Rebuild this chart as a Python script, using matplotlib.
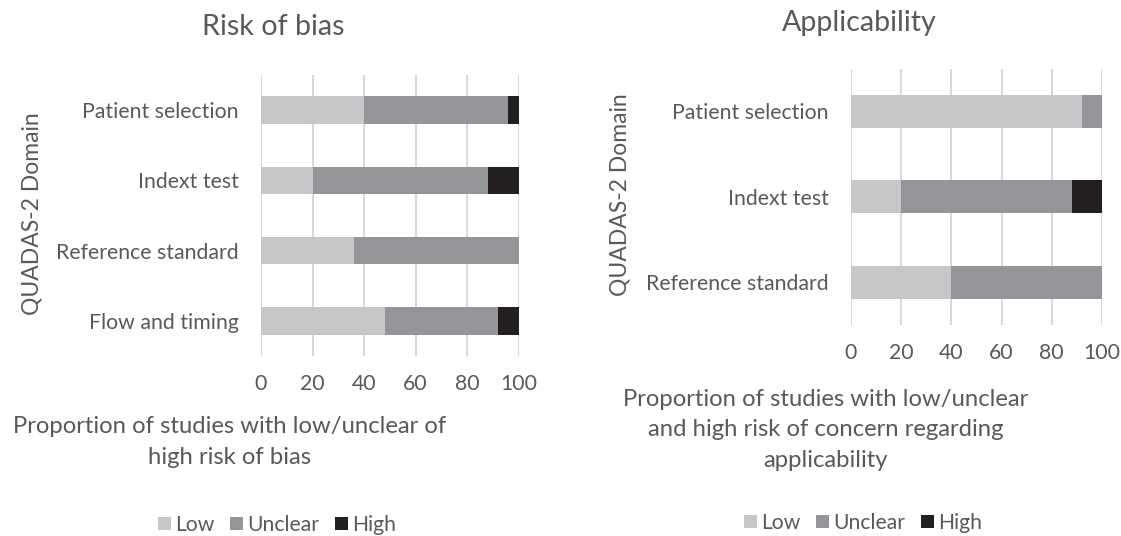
import matplotlib
matplotlib.use("Agg")
import matplotlib.pyplot as plt
from matplotlib.patches import Patch

plt.rcParams['font.family'] = ['Lato', 'DejaVu Sans']

# Data
rob_domains = ["Patient selection", "Indext test", "Reference standard", "Flow and timing"]
rob_low = [40, 20, 36, 48]
rob_unclear = [56, 68, 64, 44]
rob_high = [5, 12, 0, 8]

app_domains = ["Patient selection", "Indext test", "Reference standard"]
app_low = [92, 20, 40]
app_unclear = [8, 68, 60]
app_high = [0, 12, 0]

series_names = ["Low", "Unclear", "High"]
xticks = [0, 20, 40, 60, 80, 100]

colors = ["#C6C7C9", "#939598", "#231F20"]
text_color = "#595959"
grid_color = "#D9D9D9"

W, H = 1121, 536
fig = plt.figure(figsize=(W / 100, H / 100), dpi=100)
fig.patch.set_facecolor("white")


def px_axes(x0, x1, ytop, ybot):
    return fig.add_axes([x0 / W, (H - ybot) / H, (x1 - x0) / W, (ybot - ytop) / H])


def draw(ax, cats, low, unc, high):
    y = list(range(len(cats)))
    left = [0] * len(cats)
    for vals, c in zip([low, unc, high], colors):
        ax.barh(y, vals, left=left, height=0.39, color=c, zorder=3)
        left = [a + b for a, b in zip(left, vals)]
    ax.set_xlim(0, 100)
    ax.set_ylim(len(cats) - 0.5, -0.5)
    ax.set_yticks(y)
    ax.set_yticklabels(cats, fontsize=15.3, color=text_color)
    ax.set_xticks(xticks)
    ax.set_xticklabels([str(t) for t in xticks], fontsize=15.3, color=text_color)
    ax.tick_params(axis='both', length=0)
    ax.tick_params(axis='y', pad=16)
    ax.tick_params(axis='x', pad=13)
    for s in ax.spines.values():
        s.set_visible(False)
    ax.xaxis.grid(True, color=grid_color, linewidth=1.5, zorder=0)
    ax.set_axisbelow(True)


ax1 = px_axes(261, 518.7, 75, 356)
draw(ax1, rob_domains, rob_low, rob_unclear, rob_high)
ax2 = px_axes(851, 1102, 68.5, 325)
draw(ax2, app_domains, app_low, app_unclear, app_high)


def ftext(x, y, s, **kw):
    fig.text(x / W, 1 - y / H, s, color=text_color, **kw)


ftext(273, 27, "Risk of bias", fontsize=20.6, ha='center', va='center')
ftext(859, 23, "Applicability", fontsize=20.6, ha='center', va='center')

ftext(32, 214, "QUADAS-2 Domain", fontsize=16.5, rotation=90, ha='center', va='center')
ftext(620, 195, "QUADAS-2 Domain", fontsize=16.5, rotation=90, ha='center', va='center')

ftext(230, 442, "Proportion of studies with low/unclear of\nhigh risk of bias",
      fontsize=17.2, ha='center', va='center', linespacing=1.55)
ftext(826, 430, "Proportion of studies with low/unclear\nand high risk of concern regarding\napplicability",
      fontsize=17.2, ha='center', va='center', linespacing=1.53)

handles = [Patch(facecolor=c, edgecolor='none') for c in colors]
for cx, cy in [(277, 525), (863, 523)]:
    leg = fig.legend(handles, series_names, loc='center', bbox_to_anchor=(cx / W, 1 - cy / H),
                     ncol=3, frameon=False, fontsize=15.2, handlelength=0.59, handleheight=0.59,
                     handletextpad=0.2, columnspacing=0.76)
    for t in leg.get_texts():
        t.set_color(text_color)

fig.savefig("out.png", dpi=100)
